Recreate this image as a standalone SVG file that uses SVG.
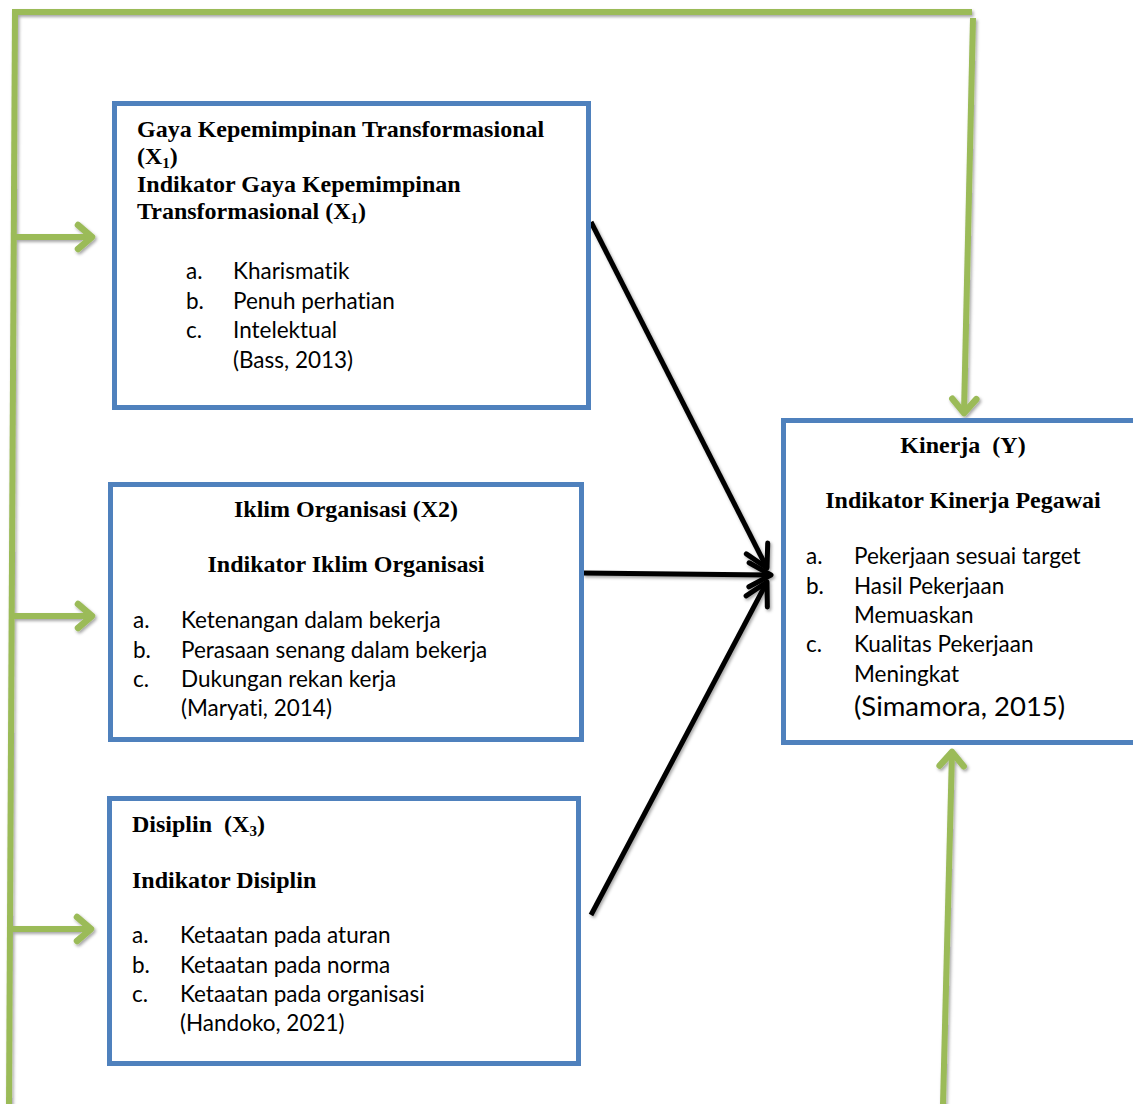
<svg xmlns="http://www.w3.org/2000/svg" width="1133" height="1104" viewBox="0 0 1133 1104">
<defs>
<style>
.box{fill:#fff;stroke:#4F81BD;stroke-width:5}
.g{fill:none;stroke:#9BBB59;stroke-width:6;stroke-linecap:butt}
.k{fill:none;stroke:#000;stroke-width:5}
.h{font-family:"Liberation Serif","Times New Roman",serif;font-weight:bold;font-size:24px;fill:#000;white-space:pre}
.t{font-family:Lato,"Liberation Sans",Arial,sans-serif;font-size:22.5px;fill:#000;font-variant-ligatures:none}
.big{font-size:27.5px}
.c{text-anchor:middle}
</style>
<filter id="sh" x="-20%" y="-20%" width="140%" height="140%">
<feDropShadow dx="1.5" dy="2" stdDeviation="1.5" flood-color="#000" flood-opacity="0.35"/>
</filter>
<marker id="ga" markerUnits="userSpaceOnUse" viewBox="-20 -15 24 30" refX="0" refY="0" markerWidth="24" markerHeight="30" orient="auto" overflow="visible">
<path d="M-14,-12 L0,0 L-14,12" fill="none" stroke="#9BBB59" stroke-width="6.5" stroke-linecap="round" stroke-linejoin="round"/>
</marker>
<marker id="ka" markerUnits="userSpaceOnUse" viewBox="-26 -16 30 32" refX="0" refY="0" markerWidth="30" markerHeight="32" orient="auto" overflow="visible">
<path d="M-22,-12 L0,0 L-22,12" fill="none" stroke="#000" stroke-width="5" stroke-linecap="round" stroke-linejoin="round"/>
</marker>
</defs>
<rect width="1133" height="1104" fill="#fff"/>

<g id="connectors" filter="url(#sh)">
<line class="g" x1="12" y1="12" x2="972" y2="12"/>
<line class="g" x1="15" y1="12" x2="9" y2="1104"/>
<line class="g" x1="973" y1="18" x2="964" y2="413" marker-end="url(#ga)"/>
<line class="g" x1="943" y1="1104" x2="952" y2="752" marker-end="url(#ga)"/>
<line class="g" x1="15" y1="237" x2="92" y2="237" marker-end="url(#ga)"/>
<line class="g" x1="12" y1="616" x2="92" y2="616" marker-end="url(#ga)"/>
<line class="g" x1="10" y1="929" x2="91" y2="929" marker-end="url(#ga)"/>
<line class="k" x1="591" y1="222" x2="767" y2="568" marker-end="url(#ka)"/>
<line class="k" x1="583" y1="573" x2="771" y2="575" marker-end="url(#ka)"/>
<line class="k" x1="591" y1="915" x2="767" y2="582" marker-end="url(#ka)"/>
</g>

<g id="x1">
<rect class="box" x="114.5" y="103.5" width="474" height="304"/>
<text class="h" x="137" y="137">Gaya Kepemimpinan Transformasional</text>
<text class="h" x="137" y="164">(X<tspan font-size="15" dy="4">1</tspan><tspan dy="-4">)</tspan></text>
<text class="h" x="137" y="192">Indikator Gaya Kepemimpinan</text>
<text class="h" x="137" y="219">Transformasional (X<tspan font-size="15" dy="4">1</tspan><tspan dy="-4">)</tspan></text>
<text class="t" x="186" y="279">a.</text><text class="t" x="233" y="279">Kharismatik</text>
<text class="t" x="186" y="309">b.</text><text class="t" x="233" y="309">Penuh perhatian</text>
<text class="t" x="186" y="338">c.</text><text class="t" x="233" y="338">Intelektual</text>
<text class="t" x="233" y="368">(Bass, 2013)</text>
</g>

<g id="x2">
<rect class="box" x="110.5" y="484.5" width="471" height="255"/>
<text class="h c" x="346" y="517">Iklim Organisasi (X2)</text>
<text class="h c" x="346" y="572">Indikator Iklim Organisasi</text>
<text class="t" x="133" y="628">a.</text><text class="t" x="181" y="628">Ketenangan dalam bekerja</text>
<text class="t" x="133" y="658">b.</text><text class="t" x="181" y="658">Perasaan senang dalam bekerja</text>
<text class="t" x="133" y="687">c.</text><text class="t" x="181" y="687">Dukungan rekan kerja</text>
<text class="t" x="181" y="716">(Maryati, 2014)</text>
</g>

<g id="x3">
<rect class="box" x="109.5" y="798.5" width="469" height="265"/>
<text class="h" x="132" y="832">Disiplin  (X<tspan font-size="15" dy="4">3</tspan><tspan dy="-4">)</tspan></text>
<text class="h" x="132" y="888">Indikator Disiplin</text>
<text class="t" x="132" y="943">a.</text><text class="t" x="180" y="943">Ketaatan pada aturan</text>
<text class="t" x="132" y="973">b.</text><text class="t" x="180" y="973">Ketaatan pada norma</text>
<text class="t" x="132" y="1002">c.</text><text class="t" x="180" y="1002">Ketaatan pada organisasi</text>
<text class="t" x="180" y="1031">(Handoko, 2021)</text>
</g>

<g id="y">
<rect class="box" x="783.5" y="420.5" width="360" height="322"/>
<text class="h c" x="963" y="453">Kinerja  (Y)</text>
<text class="h c" x="963" y="508">Indikator Kinerja Pegawai</text>
<text class="t" x="806" y="564">a.</text><text class="t" x="854" y="564">Pekerjaan sesuai target</text>
<text class="t" x="806" y="594">b.</text><text class="t" x="854" y="594">Hasil Pekerjaan</text>
<text class="t" x="854" y="623">Memuaskan</text>
<text class="t" x="806" y="652">c.</text><text class="t" x="854" y="652">Kualitas Pekerjaan</text>
<text class="t" x="854" y="682">Meningkat</text>
<text class="t big" x="854" y="716">(Simamora, 2015)</text>
</g>
</svg>
